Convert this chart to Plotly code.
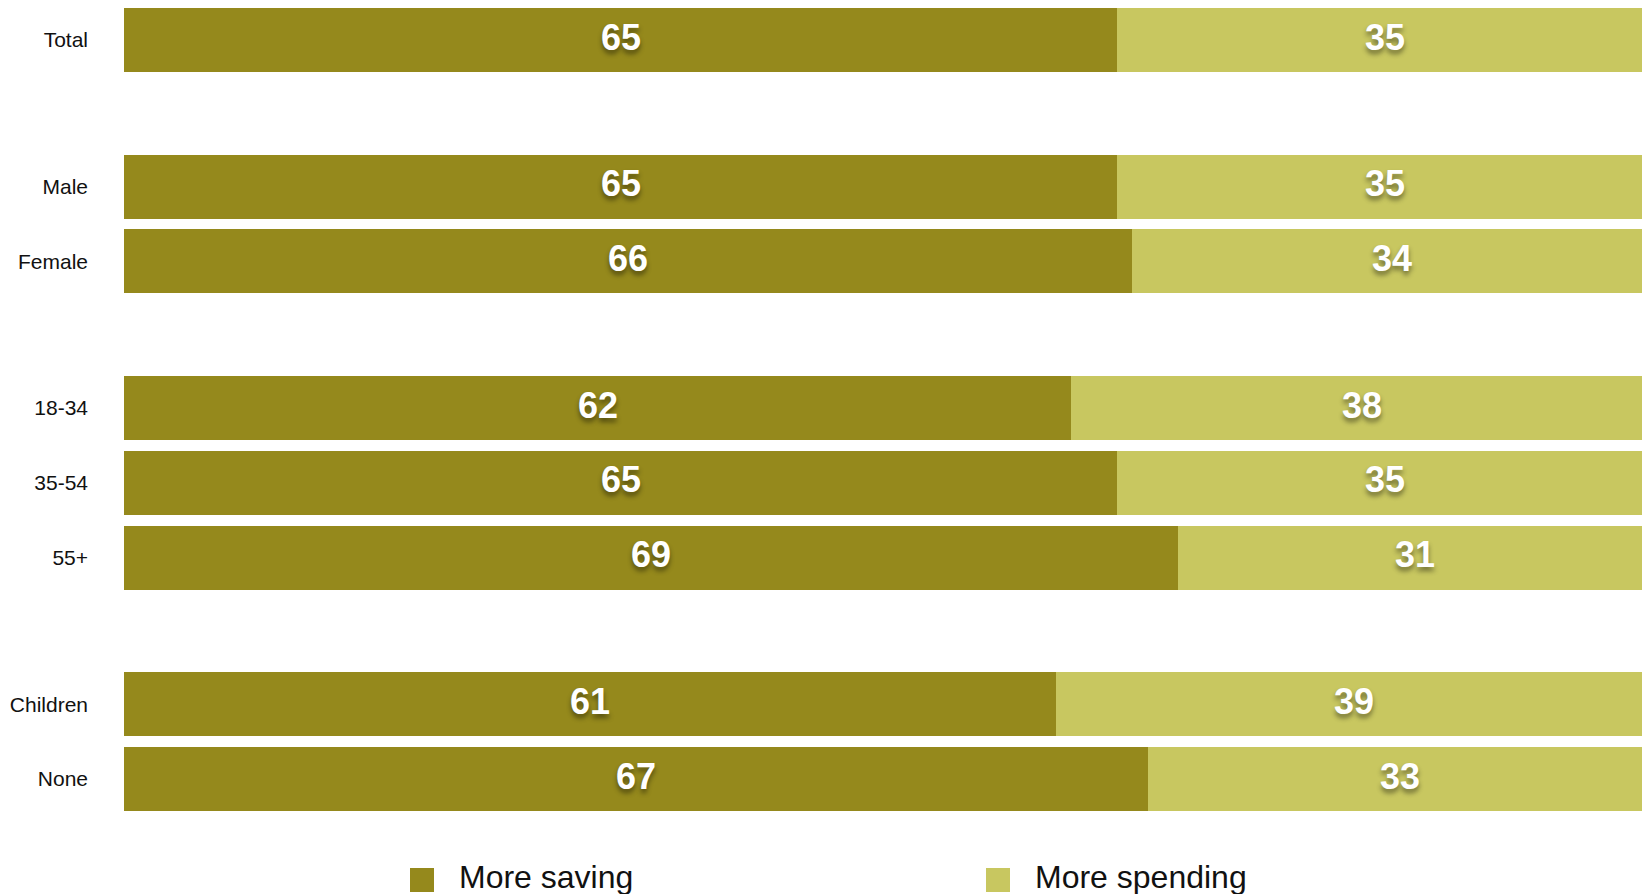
import plotly.graph_objects as go

# Survey groups, top to bottom; a blank slot separates each group
groups = [
    ["Total"],
    ["Male", "Female"],
    ["18-34", "35-54", "55+"],
    ["Children", "None"],
]
more_saving = [65, 65, 66, 62, 65, 69, 61, 67]
more_spending = [35, 35, 34, 38, 35, 31, 39, 33]
series_names = ["More saving", "More spending"]
series_colors = ["#95891C", "#C8C760"]

W, H = 1642, 894
GROUP_STEP = 1.96          # distance between the last row of a group and the next group
PLOT_LEFT, PLOT_BOTTOM = 124, 830
PX_PER_ROW = 74.8
FIRST_ROW_PX = 40
FONT = "Liberation Sans, Arial, Helvetica, sans-serif"

# row positions along the (reversed) category axis
labels, ypos = [], []
pos = 0.0
for gi, g in enumerate(groups):
    if gi > 0:
        pos += GROUP_STEP - 1
    for name in g:
        labels.append(name)
        ypos.append(pos)
        pos += 1

series_values = [more_saving, more_spending]

fig = go.Figure()
for name, vals, col in zip(series_names, series_values, series_colors):
    fig.add_trace(go.Bar(
        y=ypos, x=vals, name=name, orientation="h",
        marker=dict(color=col, line=dict(width=0)),
        width=0.856, showlegend=False, hoverinfo="skip",
    ))

# value labels centred in each stacked segment, nudged up a little
label_font = dict(family=FONT, size=36, color="white", weight="bold",
                  shadow="0px 4px 5px rgba(0,0,0,0.45)")
for row, y in enumerate(ypos):
    start = 0
    for vals in series_values:
        v = vals[row]
        fig.add_annotation(x=start + v / 2, y=y, xref="x", yref="y",
                           text=str(v), showarrow=False, yshift=3,
                           xanchor="center", yanchor="middle", font=label_font)
        start += v

plot_w = W - PLOT_LEFT
plot_h = PLOT_BOTTOM
y_top = -FIRST_ROW_PX / PX_PER_ROW
y_bot = (plot_h - FIRST_ROW_PX) / PX_PER_ROW
# 100 % spans 1528 px, so the bars run slightly past the right edge
x_max = 100 * plot_w / 1528

fig.update_layout(
    width=W, height=H,
    barmode="stack",
    margin=dict(l=PLOT_LEFT, r=0, t=0, b=H - PLOT_BOTTOM),
    paper_bgcolor="white", plot_bgcolor="white",
    xaxis=dict(range=[0, x_max], visible=False, fixedrange=True),
    yaxis=dict(range=[y_bot, y_top], tickmode="array", tickvals=ypos, ticktext=labels,
               showgrid=False, zeroline=False, showline=False, ticks="",
               ticklabelstandoff=35,
               tickfont=dict(family=FONT, size=21, color="#111111"),
               fixedrange=True),
)

# legend: swatch squares plus labels below the bars
def px_to_paper_x(px):
    return (px - PLOT_LEFT) / plot_w

def px_to_paper_y(py):
    return (PLOT_BOTTOM - py) / plot_h

legend_items = [(410, 457), (986, 1033)]
for (sq_x, txt_x), name, col in zip(legend_items, series_names, series_colors):
    fig.add_shape(type="rect", xref="paper", yref="paper",
                  x0=px_to_paper_x(sq_x), x1=px_to_paper_x(sq_x + 24),
                  y0=px_to_paper_y(892), y1=px_to_paper_y(868),
                  fillcolor=col, line=dict(width=0))
    fig.add_annotation(xref="paper", yref="paper",
                       x=px_to_paper_x(txt_x), y=px_to_paper_y(877),
                       xanchor="left", yanchor="middle", showarrow=False,
                       text=name, font=dict(family=FONT, size=32, color="#111111"))

fig.write_html("out.html", config={"displayModeBar": False})
